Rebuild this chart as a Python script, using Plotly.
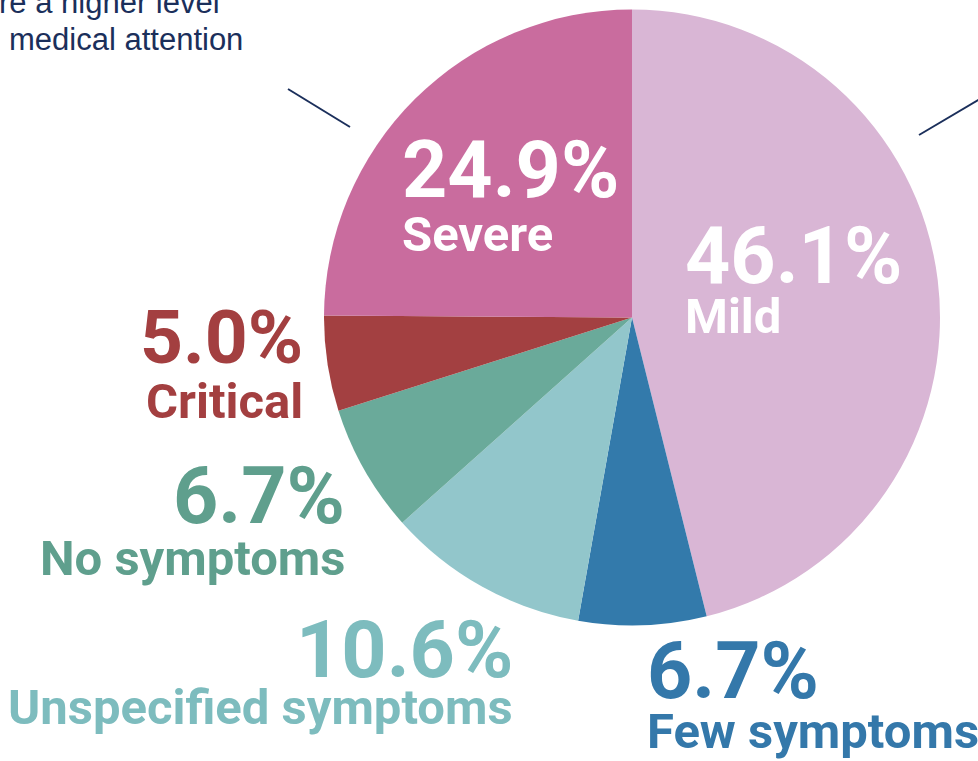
import plotly.graph_objects as go

# Share of cases by symptom severity, clockwise from 12 o'clock
categories = ["Mild", "Few symptoms", "Unspecified symptoms", "No symptoms", "Critical", "Severe"]
shares = [46.1, 6.7, 10.6, 6.7, 5.0, 24.9]
slice_colors = ["#D9B6D5", "#337AAB", "#92C6CB", "#6AAA9A", "#A34041", "#C96C9E"]
label_colors = ["#FFFFFF", "#3478AA", "#7DBCBE", "#5F9F8D", "#A33F40", "#FFFFFF"]

W, H = 978, 761
BOLD = "Roboto, Liberation Sans, Arial, sans-serif"
NAVY = "#1B2F5B"


def px(x, y):
    return x / W, 1 - y / H


fig = go.Figure(
    go.Pie(
        labels=categories,
        values=shares,
        marker=dict(colors=slice_colors, line=dict(width=0)),
        sort=False,
        direction="clockwise",
        rotation=0,
        textinfo="none",
        hoverinfo="label+value",
        showlegend=False,
        domain=dict(x=[(632 - 308) / W, (632 + 308) / W], y=[1 - 626 / H, 1 - 9 / H]),
    )
)

# label anchor: (x, cap-centre y of value, cap-centre y of name, horizontal anchor)
placements = {
    "Mild": (683, 256, 316, "left"),
    "Few symptoms": (645, 671, 731, "left"),
    "Unspecified symptoms": (515, 650, 707, "right"),
    "No symptoms": (347, 496, 558, "right"),
    "Critical": (305, 337, 401, "right"),
    "Severe": (400, 170, 235, "left"),
}

annotations = []
for name, val, col in zip(categories, shares, label_colors):
    x, yv, yn, anchor = placements[name]
    ax, ayv = px(x, yv)
    _, ayn = px(x, yn)
    annotations.append(dict(
        x=ax, y=ayv, xref="paper", yref="paper", xanchor=anchor, yanchor="middle",
        text=f"<b>{val:.1f}%</b>", showarrow=False,
        font=dict(family=BOLD, size=79 if name != "Critical" else 75, color=col),
    ))
    annotations.append(dict(
        x=ax, y=ayn, xref="paper", yref="paper", xanchor=anchor, yanchor="middle",
        text=f"<b>{name}</b>", showarrow=False,
        font=dict(family=BOLD, size=49, color=col),
    ))

# callout text running off the top-left corner
for txt, x, y in [("re a higher level", -3, 2), ("medical attention", 7, 40)]:
    ax, ay = px(x, y)
    annotations.append(dict(
        x=ax, y=ay, xref="paper", yref="paper", xanchor="left", yanchor="middle",
        text=txt, showarrow=False,
        font=dict(family="Liberation Sans, Arial, sans-serif", size=31, color=NAVY),
    ))

shapes = []
for (x0, y0), (x1, y1) in [((288, 89), (350, 127)), ((919, 135), (980, 99))]:
    a0, b0 = px(x0, y0)
    a1, b1 = px(x1, y1)
    shapes.append(dict(type="line", xref="paper", yref="paper", x0=a0, y0=b0, x1=a1, y1=b1,
                       line=dict(color=NAVY, width=2)))

fig.update_layout(
    width=W, height=H,
    margin=dict(l=0, r=0, t=0, b=0),
    paper_bgcolor="white",
    plot_bgcolor="white",
    annotations=annotations,
    shapes=shapes,
)

fig.write_html("out.html")
